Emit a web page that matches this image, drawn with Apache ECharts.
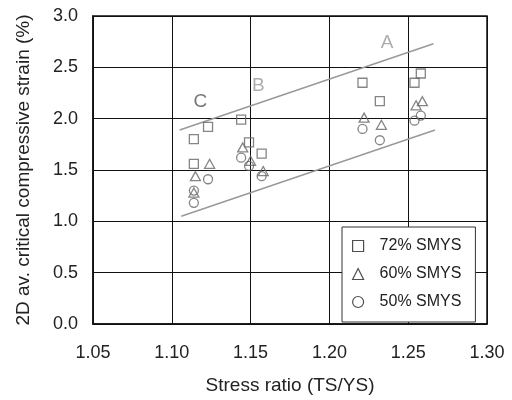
<!DOCTYPE html>
<html><head><meta charset="utf-8">
<script src="https://cdn.jsdelivr.net/npm/echarts@6/dist/echarts.min.js"></script>
<style>html,body{margin:0;padding:0;background:#fff}#c{width:512px;height:400px}</style>
</head><body><div id="c"></div>
<script>
// Data (x = stress ratio TS/YS, y = critical compressive strain %)
const smys72 = [[1.114,1.80],[1.123,1.92],[1.144,1.99],[1.149,1.77],[1.114,1.56],[1.157,1.66],
                [1.221,2.35],[1.232,2.17],[1.254,2.35],[1.258,2.44]];
const smys60 = [[1.124,1.56],[1.115,1.44],[1.114,1.28],[1.145,1.72],[1.150,1.59],[1.158,1.49],
                [1.222,2.01],[1.233,1.94],[1.255,2.13],[1.259,2.17]];
const smys50 = [[1.123,1.41],[1.114,1.30],[1.114,1.18],[1.144,1.62],[1.149,1.54],[1.157,1.44],
                [1.221,1.90],[1.232,1.79],[1.254,1.98],[1.258,2.03]];
const upperBound = [[1.105,1.89],[1.266,2.73]];
const lowerBound = [[1.106,1.05],[1.267,1.89]];
const groupLabels = [
  {name:'A', value:[1.2366,2.74], color:'#999'},
  {name:'B', value:[1.1549,2.32], color:'#999'},
  {name:'C', value:[1.1182,2.165], color:'#555'}
];
const seriesNames = ['72% SMYS','60% SMYS','50% SMYS'];
const xName = 'Stress ratio (TS/YS)';
const yName = '2D av. critical compressive strain (%)';

const FONT = '"Liberation Sans", Arial, sans-serif';
const markStyle = {color:'rgba(0,0,0,0)', borderColor:'#666', borderWidth:1.3};
const chart = echarts.init(document.getElementById('c'), null, {renderer:'canvas'});
chart.setOption({
  animation:false,
  backgroundColor:'#fff',
  textStyle:{fontFamily:FONT},
  grid:{left:93, right:25, top:16, bottom:75, show:true, borderColor:'#111', borderWidth:1.5, backgroundColor:'transparent'},
  xAxis:{type:'value', min:1.05, max:1.30, interval:0.05,
    name:xName, nameLocation:'middle', nameGap:52,
    nameTextStyle:{fontSize:19, color:'#222', fontFamily:FONT},
    axisLine:{show:true, lineStyle:{color:'#111', width:1.5}},
    axisTick:{show:false},
    axisLabel:{fontSize:18, color:'#222', margin:20, fontFamily:FONT, formatter:v=>v.toFixed(2)},
    splitLine:{show:true, lineStyle:{color:'#111', width:1}}},
  yAxis:{type:'value', min:0, max:3.0, interval:0.5,
    name:yName, nameLocation:'middle', nameGap:60,
    nameTextStyle:{fontSize:19, color:'#222', fontFamily:FONT},
    axisLine:{show:true, lineStyle:{color:'#111', width:1.5}},
    axisTick:{show:false},
    axisLabel:{fontSize:18, color:'#222', margin:15, fontFamily:FONT, formatter:v=>v.toFixed(1)},
    splitLine:{show:true, lineStyle:{color:'#111', width:1}}},
  legend:{show:true, orient:'vertical', left:342, top:227,
    data:seriesNames,
    backgroundColor:'#fff', borderColor:'#333', borderWidth:1,
    padding:[11,14,12,10], itemGap:12, itemWidth:11, itemHeight:11,
    itemStyle:{color:'#fff', borderColor:'#222', borderWidth:1.2},
    textStyle:{fontSize:16, color:'#222', lineHeight:16, fontFamily:FONT, padding:[0,0,0,11]}},
  series:[
    {type:'line', data:upperBound, symbol:'none', silent:true, lineStyle:{color:'#999', width:1.5}, z:1},
    {type:'line', data:lowerBound, symbol:'none', silent:true, lineStyle:{color:'#999', width:1.5}, z:1},
    {type:'scatter', name:seriesNames[0], data:smys72, symbol:'rect', symbolSize:9, itemStyle:markStyle, z:3},
    {type:'scatter', name:seriesNames[1], data:smys60, symbol:'triangle', symbolSize:[10,9], itemStyle:markStyle, z:3},
    {type:'scatter', name:seriesNames[2], data:smys50, symbol:'circle', symbolSize:9, itemStyle:markStyle, z:3},
    {type:'scatter', data:groupLabels.map(g=>({value:g.value, label:{color:g.color}, name:g.name})),
      symbolSize:0, silent:true, z:4,
      label:{show:true, position:'inside', formatter:p=>p.name, fontSize:19, fontFamily:FONT}}
  ]
});
</script></body></html>
